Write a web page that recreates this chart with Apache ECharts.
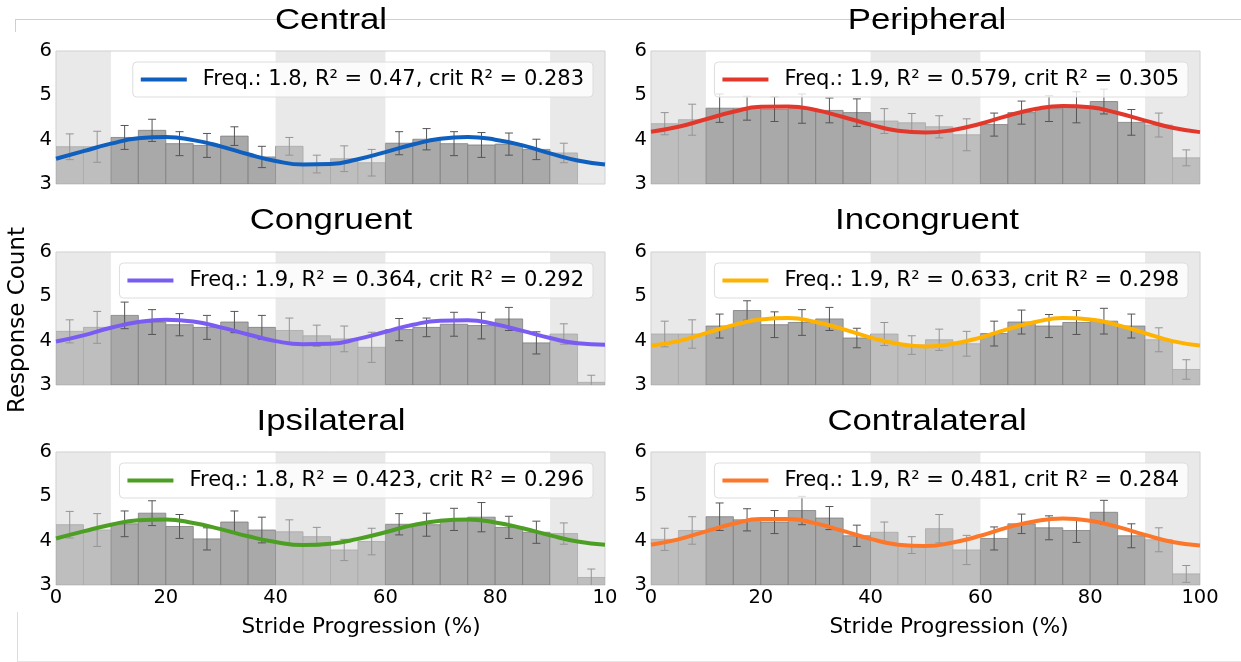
<!DOCTYPE html>
<html>
<head>
<meta charset="utf-8">
<script src="https://cdn.jsdelivr.net/npm/echarts@6/dist/echarts.min.js"></script>
<style>
  html, body { margin: 0; padding: 0; background: #ffffff; }
  #chart { width: 1241px; height: 662px; }
</style>
</head>
<body>
<div id="chart"></div>
<script>
// Bin edges of the stride cycle (5 % bins) and axis ticks
const binEdges = [0, 5, 10, 15, 20, 25, 30, 35, 40, 45, 50, 55, 60, 65, 70, 75, 80, 85, 90, 95, 100];
const xTicks = [0, 20, 40, 60, 80, 100];
const yTicks = [3, 4, 5, 6];
const shadedBands = [[0, 10], [40, 60], [90, 100]];

// Panel names and fit summaries
const panelTitles = ['Central', 'Peripheral', 'Congruent', 'Incongruent', 'Ipsilateral', 'Contralateral'];
const fitLabels = [
  'Freq.: 1.8, R² = 0.47, crit R² = 0.283',
  'Freq.: 1.9, R² = 0.579, crit R² = 0.305',
  'Freq.: 1.9, R² = 0.364, crit R² = 0.292',
  'Freq.: 1.9, R² = 0.633, crit R² = 0.298',
  'Freq.: 1.8, R² = 0.423, crit R² = 0.296',
  'Freq.: 1.9, R² = 0.481, crit R² = 0.284'
];
const fitColors = ['#0f5fbf', '#e2382c', '#7a5cf2', '#ffb300', '#4d9f23', '#fd772a'];

// Mean response count per bin
const centralMean = [3.84, 3.84, 4.05, 4.21, 3.91, 3.87, 4.08, 3.61, 3.85, 3.45, 3.57, 3.48, 3.92, 4.01, 3.91, 3.88, 3.90, 3.78, 3.70, null];
const peripheralMean = [4.36, 4.45, 4.71, 4.71, 4.69, 4.70, 4.66, 4.61, 4.42, 4.38, 4.29, 4.11, 4.34, 4.61, 4.70, 4.73, 4.86, 4.39, 4.33, 3.59];
const congruentMean = [4.21, 4.30, 4.57, 4.42, 4.36, 4.30, 4.42, 4.30, 4.23, 4.11, 4.04, 3.85, 4.25, 4.30, 4.37, 4.34, 4.49, 3.95, 4.15, 3.06];
const incongruentMean = [4.15, 4.15, 4.33, 4.68, 4.36, 4.41, 4.49, 4.06, 4.15, 3.90, 4.02, 3.93, 4.16, 4.42, 4.33, 4.41, 4.44, 4.33, 4.02, 3.35];
const ipsilateralMean = [4.36, 4.24, 4.38, 4.62, 4.32, 4.04, 4.42, 4.24, 4.20, 4.09, 3.79, 3.98, 4.37, 4.36, 4.48, 4.53, 4.30, 4.19, 4.16, 3.17];
const contralateralMean = [4.03, 4.23, 4.54, 4.47, 4.42, 4.68, 4.51, 4.11, 4.19, 3.90, 4.27, 3.79, 4.05, 4.38, 4.29, 4.23, 4.64, 4.11, 4.02, 3.25];

// Standard error per bin
const centralErr = [0.29, 0.35, 0.27, 0.25, 0.27, 0.27, 0.21, 0.24, 0.20, 0.20, 0.29, 0.30, 0.26, 0.24, 0.27, 0.28, 0.25, 0.23, 0.22, null];
const peripheralErr = [0.25, 0.35, 0.32, 0.27, 0.28, 0.33, 0.28, 0.31, 0.28, 0.21, 0.25, 0.36, 0.26, 0.26, 0.29, 0.35, 0.28, 0.29, 0.27, 0.18];
const congruentErr = [0.26, 0.36, 0.30, 0.28, 0.25, 0.27, 0.24, 0.27, 0.28, 0.24, 0.29, 0.34, 0.25, 0.21, 0.27, 0.30, 0.26, 0.25, 0.23, 0.16];
const incongruentErr = [0.29, 0.32, 0.27, 0.22, 0.29, 0.29, 0.26, 0.22, 0.26, 0.21, 0.24, 0.28, 0.28, 0.27, 0.26, 0.27, 0.29, 0.27, 0.27, 0.22];
const ipsilateralErr = [0.30, 0.37, 0.29, 0.28, 0.27, 0.25, 0.25, 0.29, 0.27, 0.21, 0.24, 0.30, 0.24, 0.26, 0.25, 0.33, 0.25, 0.25, 0.24, 0.19];
const contralateralErr = [0.25, 0.31, 0.31, 0.25, 0.26, 0.32, 0.26, 0.24, 0.23, 0.19, 0.32, 0.33, 0.26, 0.22, 0.27, 0.27, 0.27, 0.27, 0.27, 0.19];

// Fitted cosine curves, sampled at the bin edges
const centralFit = [3.57, 3.74, 3.91, 4.03, 4.06, 3.99, 3.85, 3.67, 3.52, 3.44, 3.45, 3.56, 3.72, 3.89, 4.02, 4.06, 4.00, 3.87, 3.69, 3.53, 3.44];
const peripheralFit = [4.18, 4.29, 4.46, 4.63, 4.74, 4.75, 4.67, 4.51, 4.34, 4.20, 4.16, 4.22, 4.36, 4.54, 4.69, 4.76, 4.73, 4.60, 4.43, 4.27, 4.17];
const congruentFit = [3.98, 4.12, 4.29, 4.42, 4.47, 4.43, 4.30, 4.14, 3.99, 3.92, 3.93, 4.04, 4.20, 4.36, 4.45, 4.46, 4.37, 4.22, 4.06, 3.94, 3.91];
const incongruentFit = [3.89, 3.99, 4.17, 4.35, 4.48, 4.51, 4.42, 4.26, 4.07, 3.93, 3.87, 3.93, 4.07, 4.26, 4.42, 4.51, 4.48, 4.35, 4.17, 3.99, 3.89];
const ipsilateralFit = [4.05, 4.21, 4.36, 4.46, 4.48, 4.40, 4.26, 4.10, 3.97, 3.90, 3.93, 4.04, 4.19, 4.35, 4.45, 4.48, 4.41, 4.28, 4.12, 3.98, 3.91];
const contralateralFit = [3.91, 4.03, 4.21, 4.38, 4.49, 4.49, 4.39, 4.22, 4.04, 3.91, 3.88, 3.96, 4.11, 4.30, 4.44, 4.50, 4.45, 4.31, 4.13, 3.97, 3.89];

const panelMeans = [centralMean, peripheralMean, congruentMean, incongruentMean, ipsilateralMean, contralateralMean];
const panelErrs = [centralErr, peripheralErr, congruentErr, incongruentErr, ipsilateralErr, contralateralErr];
const panelFits = [centralFit, peripheralFit, congruentFit, incongruentFit, ipsilateralFit, contralateralFit];

// Layout
const W = 1241;
const colLeft = [56, 651];
const rowTop = [51, 252, 452];
const plotW = 549, plotH = 133;
const yMin = yTicks[0], yMax = yTicks[yTicks.length - 1];
const tickFont = 'DejaVu Sans';

const chart = echarts.init(document.getElementById('chart'), null, { renderer: 'canvas' });

const grids = [], xAxes = [], yAxes = [], series = [], legends = [];

panelTitles.forEach((title, p) => {
  const col = p % 2, row = Math.floor(p / 2);
  const isBottom = row === 2;
  grids.push({
    left: colLeft[col], top: rowTop[row], width: plotW, height: plotH,
    show: true, borderColor: '#cfcfcf', borderWidth: 1, backgroundColor: 'transparent'
  });
  xAxes.push({
    type: 'value', gridIndex: p, min: xTicks[0], max: xTicks[xTicks.length - 1],
    interval: xTicks[1] - xTicks[0],
    axisLine: { show: false }, axisTick: { show: false }, splitLine: { show: false },
    axisLabel: {
      show: isBottom, margin: 3, fontFamily: tickFont, fontSize: 19.5, color: '#000',
      showMinLabel: true, showMaxLabel: true,
      // the last label of the left panel is cut off by the neighbouring panel
      formatter: v => (col === 0 && v === 100) ? '10' : String(v)
    }
  });
  yAxes.push({
    type: 'value', gridIndex: p, min: yMin, max: yMax, interval: 1,
    axisLine: { show: false }, axisTick: { show: false }, splitLine: { show: false },
    axisLabel: { margin: 4, fontFamily: tickFont, fontSize: 19.5, color: '#000' }
  });

  const mean = panelMeans[p], err = panelErrs[p], fit = panelFits[p];

  // histogram bars
  const barData = [];
  mean.forEach((v, i) => { if (v != null) barData.push([binEdges[i], binEdges[i + 1], v]); });
  series.push({
    type: 'custom', xAxisIndex: p, yAxisIndex: p, z: 1, silent: true, clip: true,
    data: barData, encode: { x: [0, 1], y: 2 },
    renderItem: (params, api) => {
      const a = api.coord([api.value(0), api.value(2)]);
      const b = api.coord([api.value(1), yMin]);
      return {
        type: 'rect',
        shape: { x: a[0], y: a[1], width: b[0] - a[0], height: b[1] - a[1] },
        style: { fill: '#a9a9a9', stroke: '#7d7d7d', lineWidth: 0.8 }
      };
    }
  });

  // error bars
  const errData = [];
  mean.forEach((v, i) => { if (v != null) errData.push([(binEdges[i] + binEdges[i + 1]) / 2, v, err[i]]); });
  series.push({
    type: 'custom', xAxisIndex: p, yAxisIndex: p, z: 2, silent: true, clip: true,
    data: errData, encode: { x: 0, y: 1 },
    renderItem: (params, api) => {
      const xc = api.value(0), v = api.value(1), e = api.value(2);
      const top = api.coord([xc, v + e]);
      const bot = api.coord([xc, v - e]);
      const cap = 4;
      const st = { stroke: '#555555', lineWidth: 1 };
      return {
        type: 'group',
        children: [
          { type: 'line', shape: { x1: top[0], y1: top[1], x2: bot[0], y2: bot[1] }, style: st },
          { type: 'line', shape: { x1: top[0] - cap, y1: top[1], x2: top[0] + cap, y2: top[1] }, style: st },
          { type: 'line', shape: { x1: bot[0] - cap, y1: bot[1], x2: bot[0] + cap, y2: bot[1] }, style: st }
        ]
      };
    }
  });

  // shaded stance/swing transition bands, drawn over the bars
  series.push({
    type: 'custom', xAxisIndex: p, yAxisIndex: p, z: 3, silent: true, clip: true,
    data: shadedBands, encode: { x: [0, 1] },
    renderItem: (params, api) => {
      const a = api.coord([api.value(0), yMax]);
      const b = api.coord([api.value(1), yMin]);
      return {
        type: 'rect',
        shape: { x: a[0], y: a[1], width: b[0] - a[0], height: b[1] - a[1] },
        style: { fill: 'rgba(211,211,211,0.5)' }
      };
    }
  });

  // fitted curve
  series.push({
    type: 'line', name: fitLabels[p], xAxisIndex: p, yAxisIndex: p, z: 4,
    data: binEdges.map((x, i) => [x, fit[i]]),
    smooth: true, showSymbol: false, silent: true,
    lineStyle: { color: fitColors[p], width: 4 },
    itemStyle: { color: fitColors[p] }
  });

  legends.push({
    data: [fitLabels[p]],
    right: col === 0 ? W - 593 : W - 1188,
    top: rowTop[row] + 11,
    orient: 'horizontal',
    selectedMode: false,
    icon: 'rect', itemWidth: 46, itemHeight: 4,
    padding: [7, 9, 7, 8],
    backgroundColor: 'rgba(255,255,255,0.8)',
    borderColor: '#dddddd', borderWidth: 1, borderRadius: 4,
    z: 10,
    textStyle: { fontFamily: tickFont, fontSize: 21, color: '#000', padding: [0, 0, 0, 11] }
  });
});

// panel titles, axis titles and the thin figure frame lines
const graphics = [
  { type: 'line', shape: { x1: 15, y1: 19.5, x2: W, y2: 19.5 }, style: { stroke: '#cfcfcf', lineWidth: 1 }, z: 0 },
  { type: 'line', shape: { x1: 15.5, y1: 19, x2: 15.5, y2: 32 }, style: { stroke: '#cfcfcf', lineWidth: 1 }, z: 0 },
  { type: 'line', shape: { x1: 17.5, y1: 612, x2: 17.5, y2: 662 }, style: { stroke: '#dcdcdc', lineWidth: 1 }, z: 0 },
  { type: 'line', shape: { x1: 17, y1: 661.5, x2: W, y2: 661.5 }, style: { stroke: '#e6e6e6', lineWidth: 1 }, z: 0 }
];
const titleCx = [331, 927];
const titleCy = [21, 221, 422];
panelTitles.forEach((t, p) => {
  graphics.push({
    type: 'text', x: titleCx[p % 2], y: titleCy[Math.floor(p / 2)], z: 5, scaleX: 1.16,
    style: { text: t, fontFamily: 'Liberation Sans', fontSize: 30, fill: '#000', align: 'center', verticalAlign: 'middle' }
  });
});
graphics.push({
  type: 'text', x: 18, y: 320, rotation: Math.PI / 2, z: 5,
  style: { text: 'Response Count', fontFamily: tickFont, fontSize: 23, fill: '#000', align: 'center', verticalAlign: 'middle' }
});
[361, 949].forEach(cx => {
  graphics.push({
    type: 'text', x: cx, y: 627, z: 5,
    style: { text: 'Stride Progression (%)', fontFamily: tickFont, fontSize: 21.5, fill: '#000', align: 'center', verticalAlign: 'middle' }
  });
});

chart.setOption({
  animation: false,
  backgroundColor: '#ffffff',
  grid: grids,
  xAxis: xAxes,
  yAxis: yAxes,
  legend: legends,
  series: series,
  graphic: graphics
});
</script>
</body>
</html>
